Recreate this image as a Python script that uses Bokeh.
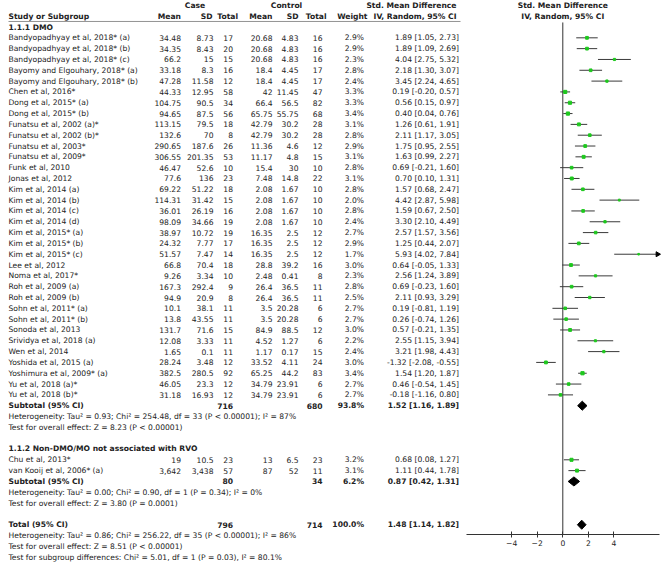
import math
from bokeh.plotting import figure
from bokeh.models import ColumnDataSource, Range1d, FixedTicker, LinearAxis
from bokeh.core.properties import value
from bokeh.embed import file_html
from bokeh.resources import INLINE

# ---------------- data ----------------
study_g1 = [
    "Bandyopadhyay et al, 2018* (a)", "Bandyopadhyay et al, 2018* (b)", "Bandyopadhyay et al, 2018* (c)",
    "Bayomy and Elgouhary, 2018* (a)", "Bayomy and Elgouhary, 2018* (b)", "Chen et al, 2016*",
    "Dong et al, 2015* (a)", "Dong et al, 2015* (b)", "Funatsu et al, 2002 (a)*", "Funatsu et al, 2002 (b)*",
    "Funatsu et al, 2003*", "Funatsu et al, 2009*", "Funk et al, 2010", "Jonas et al, 2012",
    "Kim et al, 2014 (a)", "Kim et al, 2014 (b)", "Kim et al, 2014 (c)", "Kim et al, 2014 (d)",
    "Kim et al, 2015* (a)", "Kim et al, 2015* (b)", "Kim et al, 2015* (c)", "Lee et al, 2012",
    "Noma et al, 2017*", "Roh et al, 2009 (a)", "Roh et al, 2009 (b)", "Sohn et al, 2011* (a)",
    "Sohn et al, 2011* (b)", "Sonoda et al, 2013", "Srividya et al, 2018 (a)", "Wen et al, 2014",
    "Yoshida et al, 2015 (a)", "Yoshimura et al, 2009* (a)", "Yu et al, 2018 (a)*", "Yu et al, 2018 (b)*",
]
case_mean_g1 = [34.48, 34.35, 66.2, 33.18, 47.28, 44.33, 104.75, 94.65, 113.15, 132.6, 290.65, 306.55,
                46.47, 77.6, 69.22, 114.31, 36.01, 98.09, 38.97, 24.32, 51.57, 66.8, 9.26, 167.3, 94.9,
                10.1, 13.8, 131.7, 12.08, 1.65, 28.24, 382.5, 46.05, 31.18]
case_sd_g1 = [8.73, 8.43, 15, 8.3, 11.58, 12.95, 90.5, 87.5, 79.5, 70, 187.6, 201.35, 52.6, 136, 51.22,
              31.42, 26.19, 34.66, 10.72, 7.77, 7.47, 70.4, 3.34, 292.4, 20.9, 38.1, 43.55, 71.6, 3.33,
              0.1, 3.48, 280.5, 23.3, 16.93]
case_n_g1 = [17, 20, 15, 16, 12, 58, 34, 56, 18, 8, 26, 53, 10, 23, 18, 15, 16, 19, 19, 17, 14, 18, 10,
             9, 8, 11, 11, 15, 11, 11, 12, 92, 12, 12]
ctrl_mean_g1 = [20.68, 20.68, 20.68, 18.4, 18.4, 42, 66.4, 65.75, 42.79, 42.79, 11.36, 11.17, 15.4, 7.48,
                2.08, 2.08, 2.08, 2.08, 16.35, 16.35, 16.35, 28.8, 2.48, 26.4, 26.4, 3.5, 3.5, 84.9,
                4.52, 1.17, 33.52, 65.25, 34.79, 34.79]
ctrl_sd_g1 = [4.83, 4.83, 4.83, 4.45, 4.45, 11.45, 56.5, 55.75, 30.2, 30.2, 4.6, 4.8, 30, 14.8, 1.67,
              1.67, 1.67, 1.67, 2.5, 2.5, 2.5, 39.2, 0.41, 36.5, 36.5, 20.28, 20.28, 88.5, 1.27, 0.17,
              4.11, 44.2, 23.91, 23.91]
ctrl_n_g1 = [16, 16, 16, 17, 17, 47, 82, 68, 28, 28, 12, 15, 10, 22, 10, 10, 10, 10, 12, 12, 12, 16, 8,
             11, 11, 6, 6, 12, 6, 15, 24, 83, 6, 6]
weight_g1 = [2.9, 2.9, 2.3, 2.8, 2.4, 3.3, 3.3, 3.4, 3.1, 2.8, 2.9, 3.1, 2.8, 3.1, 2.8, 2.0, 2.8, 2.4,
             2.7, 2.9, 1.7, 3.0, 2.3, 2.8, 2.5, 2.7, 2.7, 3.0, 2.2, 2.4, 3.0, 3.4, 2.7, 2.7]
smd_g1 = [1.89, 1.89, 4.04, 2.18, 3.45, 0.19, 0.56, 0.40, 1.26, 2.11, 1.75, 1.63, 0.69, 0.70, 1.57,
          4.42, 1.59, 3.30, 2.57, 1.25, 5.93, 0.64, 2.56, 0.69, 2.11, 0.19, 0.26, 0.57, 2.55, 3.21,
          -1.32, 1.54, 0.46, -0.18]
lo_g1 = [1.05, 1.09, 2.75, 1.30, 2.24, -0.20, 0.15, 0.04, 0.61, 1.17, 0.95, 0.99, -0.21, 0.10, 0.68,
         2.87, 0.67, 2.10, 1.57, 0.44, 4.02, -0.05, 1.24, -0.23, 0.93, -0.81, -0.74, -0.21, 1.15, 1.98,
         -2.08, 1.20, -0.54, -1.16]
hi_g1 = [2.73, 2.69, 5.32, 3.07, 4.65, 0.57, 0.97, 0.76, 1.91, 3.05, 2.55, 2.27, 1.60, 1.31, 2.47,
         5.98, 2.50, 4.49, 3.56, 2.07, 7.84, 1.33, 3.89, 1.60, 3.29, 1.19, 1.26, 1.35, 3.94, 4.43,
         -0.55, 1.87, 1.45, 0.80]

study_g2 = ["Chu et al, 2013*", "van Kooij et al, 2006* (a)"]
case_mean_g2 = [19, 3642]
case_sd_g2 = [10.5, 3438]
case_n_g2 = [23, 57]
ctrl_mean_g2 = [13, 87]
ctrl_sd_g2 = [6.5, 52]
ctrl_n_g2 = [23, 11]
weight_g2 = [3.2, 3.1]
smd_g2 = [0.68, 1.11]
lo_g2 = [0.08, 0.44]
hi_g2 = [1.27, 1.78]

group_names = ["1.1.1 DMO", "1.1.2 Non-DMO/MO not associated with RVO"]
sub_case_n = [716, 80]
sub_ctrl_n = [680, 34]
sub_weight = [93.8, 6.2]
sub_smd = [1.52, 0.87]
sub_lo = [1.16, 0.42]
sub_hi = [1.89, 1.31]
sub_het = ["Heterogeneity: Tau\u00b2 = 0.93; Chi\u00b2 = 254.48, df = 33 (P < 0.00001); I\u00b2 = 87%",
           "Heterogeneity: Tau\u00b2 = 0.00; Chi\u00b2 = 0.90, df = 1 (P = 0.34); I\u00b2 = 0%"]
sub_test = ["Test for overall effect: Z = 8.23 (P < 0.00001)",
            "Test for overall effect: Z = 3.80 (P = 0.0001)"]

total_case_n = 796
total_ctrl_n = 714
total_weight = 100.0
total_smd = 1.48
total_lo = 1.14
total_hi = 1.82
total_notes = ["Heterogeneity: Tau\u00b2 = 0.86; Chi\u00b2 = 256.22, df = 35 (P < 0.00001); I\u00b2 = 86%",
               "Test for overall effect: Z = 8.51 (P < 0.00001)",
               "Test for subgroup differences: Chi\u00b2 = 5.01, df = 1 (P = 0.03), I\u00b2 = 80.1%"]

x_ticks = [-4, -2, 0, 2, 4]

# ---------------- layout constants ----------------
W, H = 669, 564
FONT = "DejaVu Sans"
FS = "7.6px"
TXT = "#222222"
ROW0_PX, ROW_PX = 26.5, 10.82              # pixel centre of row 0 and row pitch
R_TOP = -ROW0_PX / ROW_PX
R_BOT = (H - ROW0_PX) / ROW_PX
R_AXIS = (534 - ROW0_PX) / ROW_PX
ZERO_PX, UNIT_PX = 562.3, 12.79            # forest scale: pixel of 0 and pixels per unit
FOREST_L, FOREST_R = 466, 659
XMIN = (FOREST_L - ZERO_PX) / UNIT_PX
XMAX = (FOREST_R - ZERO_PX) / UNIT_PX

COL = dict(name=8, cm=180.5, csd=213, cn=232.5, km=272, ksd=298, kn=322, w=363.5, ci=458.5)


def fmt(v):
    if isinstance(v, int):
        return f"{v:,}"
    return str(v)


def ci_txt(e, l, h):
    return f"{e:.2f} [{l:.2f}, {h:.2f}]"


texts = {(a, b): dict(x=[], y=[], t=[]) for a in ("left", "right", "center") for b in ("normal", "bold")}


def put(x, y, t, align="right", style="normal"):
    d = texts[(align, style)]
    d["x"].append(x)
    d["y"].append(y)
    d["t"].append(t)


# headers
put(194.5, -2, "Case", "center", "bold")
put(286, -2, "Control", "center", "bold")
put(456, -2, "Std. Mean Difference", "right", "bold")
put(COL["name"], -1, "Study or Subgroup", "left", "bold")
for lab, xx in [("Mean", 180.5), ("SD", 212), ("Total", 237.5), ("Mean", 272), ("SD", 298),
                ("Total", 326), ("Weight", 367)]:
    put(xx, -1, lab, "right", "bold")
put(456, -1, "IV, Random, 95% CI", "right", "bold")

groups = [
    (study_g1, case_mean_g1, case_sd_g1, case_n_g1, ctrl_mean_g1, ctrl_sd_g1, ctrl_n_g1, weight_g1, smd_g1, lo_g1, hi_g1),
    (study_g2, case_mean_g2, case_sd_g2, case_n_g2, ctrl_mean_g2, ctrl_sd_g2, ctrl_n_g2, weight_g2, smd_g2, lo_g2, hi_g2),
]

pt = dict(y=[], smd=[], lo=[], hi=[], size=[])
dia_xs, dia_ys = [], []
r = 0
for gi, g in enumerate(groups):
    names, cm, csd, cn, km, ksd, kn, w, e, lo, hi = g
    put(COL["name"], r, group_names[gi], "left", "bold")
    r += 1
    for i in range(len(names)):
        put(COL["name"], r, names[i], "left")
        put(COL["cm"], r, fmt(cm[i]))
        put(COL["csd"], r, fmt(csd[i]))
        put(COL["cn"], r, fmt(cn[i]))
        put(COL["km"], r, fmt(km[i]))
        put(COL["ksd"], r, fmt(ksd[i]))
        put(COL["kn"], r, fmt(kn[i]))
        put(COL["w"], r, f"{w[i]:.1f}%")
        put(COL["ci"], r, ci_txt(e[i], lo[i], hi[i]))
        pt["y"].append(r)
        pt["smd"].append(e[i])
        pt["lo"].append(lo[i])
        pt["hi"].append(min(hi[i], XMAX))
        pt["size"].append(w[i] * 0.95)
        r += 1
    put(COL["name"], r, "Subtotal (95% CI)", "left", "bold")
    put(COL["cn"], r, fmt(sub_case_n[gi]), "right", "bold")
    put(COL["kn"], r, fmt(sub_ctrl_n[gi]), "right", "bold")
    put(COL["w"], r, f"{sub_weight[gi]:.1f}%", "right", "bold")
    put(COL["ci"], r, ci_txt(sub_smd[gi], sub_lo[gi], sub_hi[gi]), "right", "bold")
    dia_xs.append([sub_lo[gi], sub_smd[gi], sub_hi[gi], sub_smd[gi]])
    dia_ys.append([r, r - 0.42, r, r + 0.42])
    r += 1
    put(COL["name"], r, sub_het[gi], "left")
    r += 1
    put(COL["name"], r, sub_test[gi], "left")
    r += 2

put(COL["name"], r, "Total (95% CI)", "left", "bold")
put(COL["cn"], r, fmt(total_case_n), "right", "bold")
put(COL["kn"], r, fmt(total_ctrl_n), "right", "bold")
put(COL["w"], r, f"{total_weight:.1f}%", "right", "bold")
put(COL["ci"], r, ci_txt(total_smd, total_lo, total_hi), "right", "bold")
dia_xs.append([total_lo, total_smd, total_hi, total_smd])
dia_ys.append([r, r - 0.42, r, r + 0.42])
for note in total_notes:
    r += 1
    put(COL["name"], r, note, "left")

# ---------------- figure ----------------
p = figure(width=W, height=H, x_range=Range1d(0, W), y_range=Range1d(R_BOT, R_TOP),
           output_backend="svg", toolbar_location=None, min_border=0,
           x_axis_location=None, y_axis_location=None)
p.grid.visible = False
p.outline_line_color = None
p.background_fill_color = "white"
p.extra_x_ranges = {"smd": Range1d((0 - ZERO_PX) / UNIT_PX, (W - ZERO_PX) / UNIT_PX)}

for (align, style), d in texts.items():
    if not d["t"]:
        continue
    src = ColumnDataSource(dict(x=d["x"], y=d["y"], t=d["t"]))
    p.text(x="x", y="y", text="t", source=src, text_align=align, text_baseline="middle",
           text_font=value(FONT), text_font_size=value(FS), text_font_style=style,
           text_color=TXT)

# header rule
p.segment(x0=[8], x1=[460], y0=[-0.51], y1=[-0.51], line_color="#777777", line_width=0.8)

# forest headers
hsrc = ColumnDataSource(dict(x=[0, 0], y=[-2, -1], t=["Std. Mean Difference", "IV, Random, 95% CI"]))
p.text(x="x", y="y", text="t", source=hsrc, x_range_name="smd", text_align="center",
       text_baseline="middle", text_font=value(FONT), text_font_size=value(FS),
       text_font_style="bold", text_color=TXT)

# axis on the effect scale
ax = LinearAxis(x_range_name="smd", fixed_location=R_AXIS, bounds=(XMIN, XMAX),
                ticker=FixedTicker(ticks=x_ticks))
ax.axis_line_color = "#333333"
ax.major_tick_line_color = "#333333"
ax.major_tick_in = 3
ax.major_tick_out = 3
ax.minor_tick_line_color = None
ax.major_label_standoff = 2
ax.major_label_text_font = FONT
ax.major_label_text_font_size = FS
ax.major_label_text_color = TXT
p.add_layout(ax, "below")

# null line
p.segment(x0=[0], x1=[0], y0=[-0.42], y1=[R_AXIS], x_range_name="smd",
          line_color="#333333", line_width=1)

src = ColumnDataSource(pt)
p.segment(x0="lo", x1="hi", y0="y", y1="y", source=src, x_range_name="smd",
          line_color="#3a3a3a", line_width=1)
p.scatter(x="smd", y="y", size="size", marker="square", source=src, x_range_name="smd",
          fill_color="#1ec81e", line_color="#1ec81e")

# arrow for intervals beyond the axis
arr_y = [pt["y"][i] for i in range(len(pt["hi"])) if pt["hi"][i] >= XMAX]
if arr_y:
    p.scatter(x=[XMAX - 0.15] * len(arr_y), y=arr_y, marker="triangle", angle=-math.pi / 2,
              size=5, x_range_name="smd", fill_color="black", line_color="black")

p.patches(xs=dia_xs, ys=dia_ys, x_range_name="smd", fill_color="black", line_color="black",
          line_width=1)

open("out.html", "w").write(file_html(p, INLINE))
